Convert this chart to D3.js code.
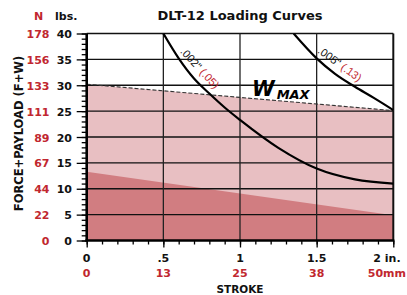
<!DOCTYPE html>
<meta charset="utf-8">
<head>
    <style>
        body { margin: 0; background: #fff; }
        text { font-family: 'DejaVu Sans', sans-serif; font-weight: bold; }
    </style>
</head>
<body>
    <div id="chart"></div>

    <script src="https://d3js.org/d3.v7.min.js"></script>
    <script>
        // data
        let strokeTicks = [0, 0.5, 1, 1.5, 2];
        let strokeInLabels = ['0', '.5', '1', '1.5', '2 in.'];
        let strokeMmLabels = ['0', '13', '25', '38', '50mm'];
        let lbsTicks = [0, 5, 10, 15, 20, 25, 30, 35, 40];
        let newtonLabels = ['0', '22', '44', '67', '89', '111', '133', '156', '178'];

        // W max (dashed) and the base load band
        let wMaxStroke = [0, 2];
        let wMaxLbs = [30.2, 25.1];
        let baseStroke = [0, 2];
        let baseLbs = [13.3, 4.9];

        // deflection curves
        let curve002Stroke = [0.5, 0.6, 0.7, 0.8, 0.9, 1.0, 1.25, 1.5, 1.75, 2.0];
        let curve002Lbs = [40, 35.2, 31.3, 28.4, 25.7, 23.3, 17.9, 13.9, 11.8, 11.0];
        let curve005Stroke = [1.35, 1.5, 1.62, 1.75, 1.87, 2.0];
        let curve005Lbs = [40, 35.2, 32.2, 29.7, 27.6, 25.2];

        // chart default setting
        let svgWidth = 407;
        let svgHeight = 295;
        let red = '#c1272f';
        let lightPink = '#e8bfc2';
        let darkPink = '#d17d81';

        let x = d3.scaleLinear().domain([0, 2]).range([86.7, 393.3]);
        let y = d3.scaleLinear().domain([0, 40]).range([240.5, 33.5]);

        function zipPoints(xs, ys) {
            return xs.map((v, i) => ({ s: v, f: ys[i] }));
        }

        let svg = d3.select('#chart')
            .append('svg')
            .attr('width', svgWidth)
            .attr('height', svgHeight);

        svg.append('clipPath')
            .attr('id', 'plotclip')
            .append('rect')
            .attr('x', x(0))
            .attr('y', y(40))
            .attr('width', x(2) - x(0))
            .attr('height', y(0) - y(40));

        // filled bands
        let area = d3.area()
            .x(d => x(d.s))
            .y0(y(0))
            .y1(d => y(d.f));

        svg.append('path')
            .datum(zipPoints(wMaxStroke, wMaxLbs))
            .attr('d', area)
            .attr('fill', lightPink);

        svg.append('path')
            .datum(zipPoints(baseStroke, baseLbs))
            .attr('d', area)
            .attr('fill', darkPink);

        // grid
        svg.append('g')
            .selectAll('line')
            .data(lbsTicks.filter(d => d > 0))
            .join('line')
            .attr('x1', x(0))
            .attr('x2', x(2))
            .attr('y1', d => y(d))
            .attr('y2', d => y(d))
            .attr('stroke', '#111')
            .attr('stroke-width', 1.3);

        svg.append('g')
            .selectAll('line')
            .data(strokeTicks.filter(d => d > 0 && d < 2))
            .join('line')
            .attr('x1', d => x(d))
            .attr('x2', d => x(d))
            .attr('y1', y(0))
            .attr('y2', y(40))
            .attr('stroke', '#222')
            .attr('stroke-width', 1.3);

        // right border
        svg.append('line')
            .attr('x1', x(2)).attr('x2', x(2))
            .attr('y1', y(0)).attr('y2', y(40))
            .attr('stroke', '#111')
            .attr('stroke-width', 2);

        // W max dashed line
        let line = d3.line()
            .x(d => x(d.s))
            .y(d => y(d.f));

        svg.append('path')
            .datum(zipPoints(wMaxStroke, wMaxLbs))
            .attr('d', line)
            .attr('fill', 'none')
            .attr('stroke', '#333')
            .attr('stroke-width', 1.1)
            .attr('stroke-dasharray', '4,2');

        // curves
        let curveLine = d3.line()
            .x(d => x(d.s))
            .y(d => y(d.f))
            .curve(d3.curveMonotoneX);

        [[curve002Stroke, curve002Lbs], [curve005Stroke, curve005Lbs]].forEach(c => {
            svg.append('path')
                .datum(zipPoints(c[0], c[1]))
                .attr('d', curveLine)
                .attr('clip-path', 'url(#plotclip)')
                .attr('fill', 'none')
                .attr('stroke', '#000')
                .attr('stroke-width', 2.2);
        });

        // axes
        svg.append('g')
            .attr('transform', `translate(${x(0)}, 0)`)
            .call(d3.axisLeft(y).ticks(40).tickSize(5).tickFormat(''));
        svg.append('g')
            .attr('transform', `translate(${x(0)}, 0)`)
            .call(d3.axisLeft(y).tickValues(lbsTicks).tickSize(10).tickFormat(''));

        svg.append('g')
            .attr('transform', `translate(0, ${y(0)})`)
            .call(d3.axisBottom(x).ticks(16).tickSize(4).tickFormat(''));
        svg.append('g')
            .attr('transform', `translate(0, ${y(0)})`)
            .call(d3.axisBottom(x).tickValues(strokeTicks).tickSize(7).tickFormat(''));

        svg.selectAll('.domain').remove();
        svg.selectAll('.tick line').attr('stroke', '#000').attr('stroke-width', 1.3);

        svg.append('line')
            .attr('x1', x(0)).attr('x2', x(0))
            .attr('y1', y(40)).attr('y2', y(0) + 1.2)
            .attr('stroke', '#000').attr('stroke-width', 2.6);
        svg.append('line')
            .attr('x1', x(0) - 1.3).attr('x2', x(2) + 1)
            .attr('y1', y(0)).attr('y2', y(0))
            .attr('stroke', '#000').attr('stroke-width', 2.6);

        // y labels
        svg.append('g')
            .selectAll('text')
            .data(lbsTicks)
            .join('text')
            .attr('x', 72)
            .attr('y', d => y(d) + 4.5)
            .attr('text-anchor', 'end')
            .attr('font-size', 11)
            .attr('fill', '#111')
            .text(d => d);

        svg.append('g')
            .selectAll('text')
            .data(lbsTicks)
            .join('text')
            .attr('x', 49.5)
            .attr('y', d => y(d) + 4.5)
            .attr('text-anchor', 'end')
            .attr('font-size', 11)
            .attr('fill', red)
            .text((d, i) => newtonLabels[i]);

        svg.append('text')
            .attr('x', 38.5).attr('y', 20)
            .attr('text-anchor', 'middle')
            .attr('font-size', 11)
            .attr('fill', red)
            .text('N');
        svg.append('text')
            .attr('x', 55).attr('y', 20)
            .attr('font-size', 11)
            .attr('fill', '#111')
            .text('lbs.');

        // x labels (last one pulled in so it fits)
        let last = strokeTicks.length - 1;
        svg.append('g')
            .selectAll('text')
            .data(strokeTicks)
            .join('text')
            .attr('x', (d, i) => i == last ? x(d) - 20 : x(d))
            .attr('y', 262)
            .attr('text-anchor', (d, i) => i == last ? 'start' : 'middle')
            .attr('font-size', 11)
            .attr('fill', '#111')
            .text((d, i) => strokeInLabels[i]);

        svg.append('g')
            .selectAll('text')
            .data(strokeTicks)
            .join('text')
            .attr('x', (d, i) => i == last ? 406 : x(d))
            .attr('y', 276.5)
            .attr('text-anchor', (d, i) => i == last ? 'end' : 'middle')
            .attr('font-size', 11)
            .attr('fill', red)
            .text((d, i) => strokeMmLabels[i]);

        // titles
        svg.append('text')
            .attr('x', 240).attr('y', 20)
            .attr('text-anchor', 'middle')
            .attr('font-size', 13)
            .attr('fill', '#111')
            .text('DLT-12 Loading Curves');

        svg.append('text')
            .attr('x', 240).attr('y', 292.5)
            .attr('text-anchor', 'middle')
            .attr('font-size', 10.5)
            .attr('fill', '#111')
            .text('STROKE');

        svg.append('text')
            .attr('transform', 'translate(23, 133.5) rotate(-90)')
            .attr('text-anchor', 'middle')
            .attr('font-size', 11.5)
            .attr('fill', '#111')
            .text('FORCE+PAYLOAD (F+W)');

        // W max label
        let wLabel = svg.append('text')
            .attr('x', 252).attr('y', 95.5)
            .attr('font-style', 'italic')
            .attr('fill', '#000');
        wLabel.append('tspan').attr('font-size', 20.5).text('W');
        wLabel.append('tspan').attr('font-size', 13).attr('dx', 2).attr('dy', 3.5).text('MAX');

        // curve labels
        function curveLabel(s, f, angle, inch, mm) {
            let t = svg.append('text')
                .attr('transform', `translate(${x(s)}, ${y(f)}) rotate(${angle})`)
                .attr('text-anchor', 'middle')
                .style('font-family', "'Liberation Sans', Arial, sans-serif")
                .style('font-weight', 'normal')
                .attr('font-size', 11);
            t.append('tspan').attr('fill', '#111').text(inch + ' ');
            t.append('tspan').attr('fill', red).text(mm);
        }
        curveLabel(0.72, 32.8, 47, '.002"', '(.05)');
        curveLabel(1.637, 33.5, 36, '.005"', '(.13)');
    </script>
</body>
